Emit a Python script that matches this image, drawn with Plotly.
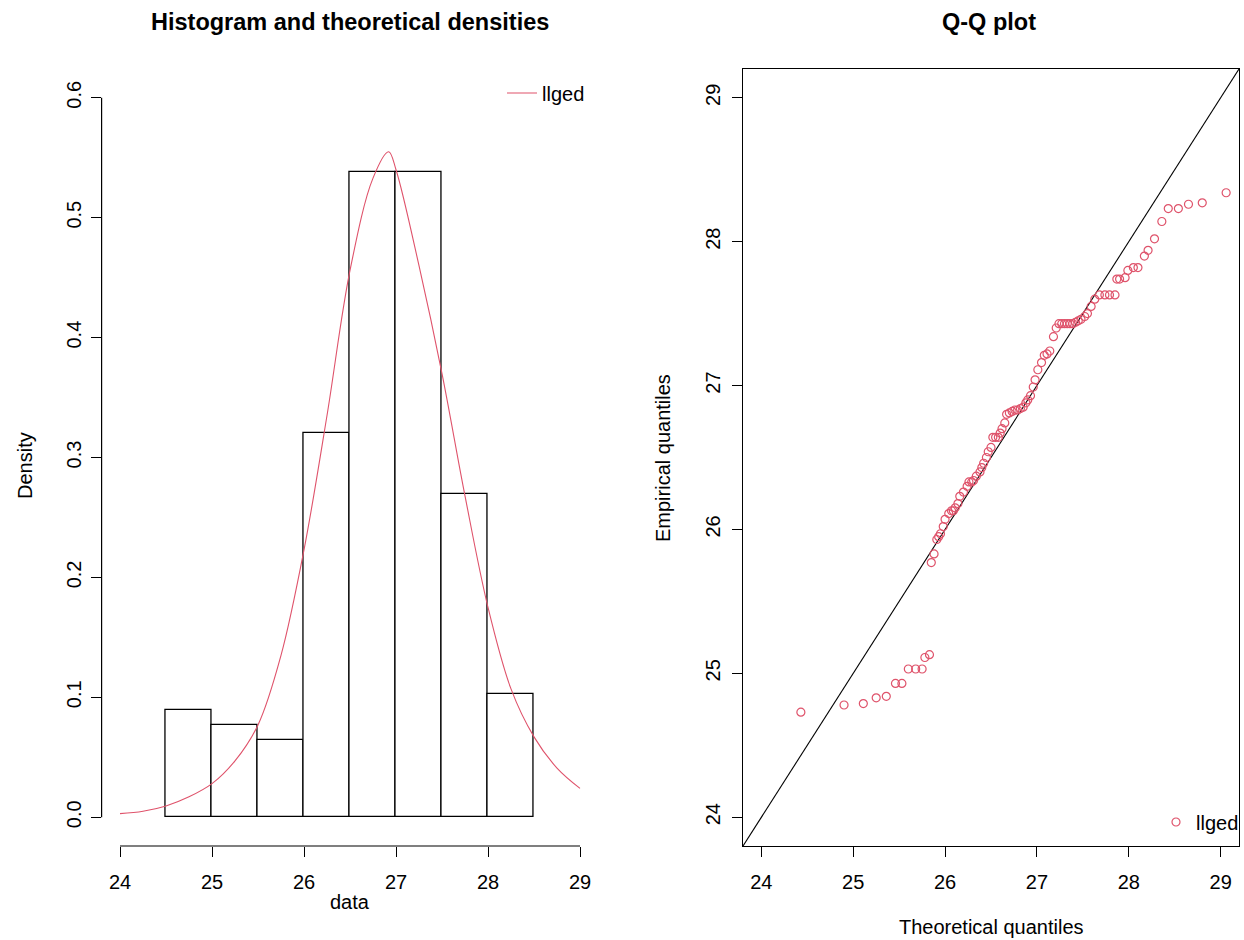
import plotly.graph_objects as go

# ---------------- data ----------------
bin_edges = [24.5, 25.0, 25.5, 26.0, 26.5, 27.0, 27.5, 28.0, 28.5]
bin_counts = [7, 6, 5, 25, 42, 42, 21, 8]

curve_x = [24.0, 24.25, 24.5, 24.75, 25.0, 25.25, 25.5, 25.75, 26.0, 26.25, 26.5,
           26.75, 26.92, 27.0, 27.25, 27.5, 27.75, 28.0, 28.25, 28.5, 28.75, 29.0]
curve_y = [0.003, 0.005, 0.0094, 0.017, 0.028, 0.047, 0.077, 0.135, 0.223, 0.335, 0.456,
           0.533, 0.555, 0.540, 0.46, 0.37, 0.268, 0.175, 0.107, 0.067, 0.041, 0.024]

qq_theoretical = [24.43, 24.90, 25.11, 25.25, 25.36, 25.46, 25.53, 25.60, 25.68, 25.75, 25.78, 25.83,
                  25.85, 25.88, 25.91, 25.93, 25.95, 25.98, 26.00, 26.04, 26.07, 26.09, 26.11, 26.14,
                  26.16, 26.20, 26.24, 26.26, 26.29, 26.31, 26.34, 26.38, 26.40, 26.42, 26.45, 26.47,
                  26.50, 26.52, 26.55, 26.58, 26.60, 26.62, 26.65, 26.67, 26.70, 26.73, 26.76, 26.79,
                  26.82, 26.85, 26.88, 26.90, 26.93, 26.96, 26.98, 27.01, 27.05, 27.08, 27.11, 27.14,
                  27.18, 27.21, 27.24, 27.27, 27.30, 27.33, 27.36, 27.39, 27.42, 27.45, 27.48, 27.52,
                  27.55, 27.59, 27.63, 27.68, 27.74, 27.79, 27.85, 27.87, 27.90, 27.96, 27.99, 28.05,
                  28.10, 28.17, 28.21, 28.28, 28.36, 28.43, 28.54, 28.65, 28.80, 29.06]
qq_empirical = [24.73, 24.78, 24.79, 24.83, 24.84, 24.93, 24.93, 25.03, 25.03, 25.03, 25.11, 25.13,
                25.77, 25.83, 25.93, 25.95, 25.97, 26.02, 26.07, 26.11, 26.13, 26.13, 26.15, 26.18,
                26.23, 26.26, 26.30, 26.33, 26.33, 26.34, 26.37, 26.40, 26.43, 26.46, 26.50, 26.54,
                26.57, 26.64, 26.64, 26.64, 26.67, 26.70, 26.74, 26.80, 26.81, 26.82, 26.83, 26.83,
                26.84, 26.85, 26.88, 26.90, 26.93, 26.99, 27.04, 27.11, 27.16, 27.21, 27.22, 27.24,
                27.34, 27.40, 27.43, 27.43, 27.43, 27.43, 27.43, 27.43, 27.44, 27.45, 27.46, 27.48,
                27.50, 27.55, 27.60, 27.63, 27.63, 27.63, 27.63, 27.74, 27.74, 27.75, 27.80, 27.82,
                27.82, 27.90, 27.94, 28.02, 28.14, 28.23, 28.23, 28.26, 28.27, 28.34]

x_ticks = [24, 25, 26, 27, 28, 29]
dens_ticks = [0.0, 0.1, 0.2, 0.3, 0.4, 0.5, 0.6]
qq_ticks = [24, 25, 26, 27, 28, 29]
axis_range = [23.8, 29.2]
dens_range = [-0.024, 0.624]

series_name = "llged"
red = "#DF536B"

# ---------------- derived ----------------
n_obs = sum(bin_counts)
bin_mid = [(a + b) / 2 for a, b in zip(bin_edges[:-1], bin_edges[1:])]
bin_w = [b - a for a, b in zip(bin_edges[:-1], bin_edges[1:])]
density = [c / (n_obs * w) for c, w in zip(bin_counts, bin_w)]

W, H = 1244, 940
FONT = "Liberation Sans, Arial, sans-serif"
TICK_SIZE = 20

def px(v):
    return v / W

def py(v):
    return 1 - v / H

fig = go.Figure()

fig.add_trace(go.Bar(
    x=bin_mid, y=density, width=bin_w,
    marker=dict(color="white", line=dict(color="black", width=1.3)),
    showlegend=False, xaxis="x", yaxis="y", hoverinfo="skip"))

fig.add_trace(go.Scatter(
    x=curve_x, y=curve_y, mode="lines", name=series_name,
    line=dict(color=red, width=1.1, shape="spline", smoothing=1.0),
    xaxis="x", yaxis="y", legend="legend"))

fig.add_trace(go.Scatter(
    x=axis_range, y=axis_range, mode="lines",
    line=dict(color="black", width=1.1), showlegend=False,
    xaxis="x2", yaxis="y2", hoverinfo="skip"))

fig.add_trace(go.Scatter(
    x=qq_theoretical, y=qq_empirical, mode="markers", name=series_name,
    marker=dict(symbol="circle-open", size=8, color=red, line=dict(width=1.2, color=red)),
    xaxis="x2", yaxis="y2", legend="legend2"))

tick_common = dict(ticks="outside", ticklen=10, tickwidth=1, tickcolor="black",
                   tickfont=dict(family=FONT, size=TICK_SIZE, color="black"),
                   showgrid=False, zeroline=False, automargin=False)

left_dom = [px(101.6), px(598.4)]
right_dom = [px(743), px(1239)]
y_dom = [py(846), py(69)]

fig.update_layout(
    width=W, height=H,
    margin=dict(l=0, r=0, t=0, b=0),
    paper_bgcolor="white", plot_bgcolor="white",
    barmode="overlay", bargap=0,
    xaxis=dict(domain=left_dom, range=axis_range, tickvals=x_ticks,
               showline=False, ticklabelstandoff=8, **tick_common),
    yaxis=dict(domain=y_dom, range=dens_range, tickvals=dens_ticks, tickformat=".1f",
               tickangle=-90, showline=False, ticklabelstandoff=2, **tick_common),
    xaxis2=dict(domain=right_dom, range=axis_range, tickvals=qq_ticks, anchor="y2",
                showline=True, mirror=True, linecolor="black", linewidth=1,
                ticklabelstandoff=8, **tick_common),
    yaxis2=dict(domain=y_dom, range=axis_range, tickvals=qq_ticks, anchor="x2",
                tickangle=-90, showline=True, mirror=True, linecolor="black", linewidth=1,
                ticklabelstandoff=4, **tick_common),
    legend=dict(x=px(502), y=py(93), xanchor="left", yanchor="middle",
                bgcolor="rgba(0,0,0,0)", font=dict(family=FONT, size=TICK_SIZE, color="black")),
    legend2=dict(x=1.0, y=py(822), xanchor="right", yanchor="middle",
                 bgcolor="rgba(0,0,0,0)", font=dict(family=FONT, size=TICK_SIZE, color="black")),
    showlegend=True,
)

# R-style detached axis lines for the histogram panel
fig.add_shape(type="line", xref="x", yref="paper", x0=x_ticks[0], x1=x_ticks[-1],
              y0=py(846), y1=py(846), line=dict(color="black", width=1.2))
fig.add_shape(type="line", xref="paper", yref="y", x0=px(101.6), x1=px(101.6),
              y0=dens_ticks[0], y1=dens_ticks[-1], line=dict(color="black", width=1.2))

ann_font = dict(family=FONT, size=TICK_SIZE, color="black")
title_font = dict(family=FONT, size=23.5, color="black")
annotations = [
    dict(text="<b>Histogram and theoretical densities</b>", x=px(350), y=py(22), font=title_font),
    dict(text="<b>Q-Q plot</b>", x=px(989), y=py(22), font=title_font),
    dict(text="data", x=px(350), y=py(902), font=ann_font),
    dict(text="Theoretical quantiles", x=px(991), y=py(927), font=ann_font),
    dict(text="Density", x=px(25), y=py(466), font=ann_font, textangle=-90),
    dict(text="Empirical quantiles", x=px(663), y=py(458), font=ann_font, textangle=-90),
]
for a in annotations:
    fig.add_annotation(xref="paper", yref="paper", xanchor="center", yanchor="middle",
                       showarrow=False, **a)

post = ("document.documentElement.style.overflow='hidden';"
        "document.body.style.overflow='hidden';"
        "document.body.style.margin='0px';")
fig.write_html("out.html", config={"displayModeBar": False, "responsive": False},
               post_script=post)
